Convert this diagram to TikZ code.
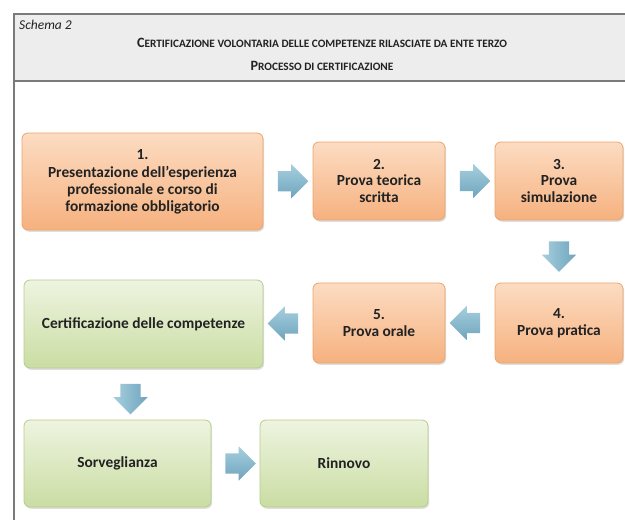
\documentclass[tikz,border=0pt]{standalone}
\usepackage{fontspec}
\setmainfont{Carlito}
\usetikzlibrary{shapes.arrows,shadows,calc}
\definecolor{oTop}{HTML}{FCDCC2}
\definecolor{oBot}{HTML}{F6B17F}
\definecolor{oLine}{HTML}{E9A46C}
\definecolor{gTop}{HTML}{EEF4E0}
\definecolor{gBot}{HTML}{CADDA3}
\definecolor{gLine}{HTML}{B7CC8C}
\definecolor{aTop}{HTML}{A6CFDE}
\definecolor{aBot}{HTML}{6FA4BD}
\definecolor{hdr}{HTML}{EDEDED}
\definecolor{frameC}{HTML}{7A7A7A}
\definecolor{txt}{HTML}{222222}
\newcommand\fsc[2]{{\fontsize{14.2}{16}\selectfont #1}{\fontsize{11.3}{13}\selectfont #2}}
\tikzset{
  boxbase/.style={rounded corners=6pt, line width=0.8pt, align=center, text=txt,
    font=\bfseries\fontsize{15.4}{16.8}\selectfont, inner sep=2pt,
    drop shadow={opacity=0.25, shadow xshift=1.2pt, shadow yshift=-1.8pt}},
  obox/.style={boxbase, draw=oLine, top color=oTop, bottom color=oBot},
  gbox/.style={boxbase, draw=gLine, top color=gTop, bottom color=gBot},
  barrow/.style={single arrow, inner sep=10pt, minimum height=30pt, minimum width=34pt,
    single arrow head extend=7pt, single arrow head indent=0pt,
    top color=aTop, bottom color=aBot, draw=none},
}
\begin{document}
\begin{tikzpicture}[x=1pt,y=-1pt]
\useasboundingbox (0,0) rectangle (625,520);
% frame and header
\fill[hdr] (14,14) rectangle (640,81);
\draw[frameC, line width=1.6pt] (640,14) -- (14,14) -- (14,520);
\draw[frameC, line width=1.6pt] (14,81) -- (640,81);
\node[font=\itshape\fontsize{13.5}{15}\selectfont, text=txt, anchor=west, inner sep=0pt] (schema) at (19,25) {Schema 2};
\node[font=\bfseries, text=txt, inner sep=0pt] (title) at (322,43) {\fsc{C}{ERTIFICAZIONE VOLONTARIA DELLE COMPETENZE RILASCIATE DA ENTE TERZO}};
\node[font=\bfseries, text=txt, inner sep=0pt] (sub) at (322,66) {\fsc{P}{ROCESSO DI CERTIFICAZIONE}};
% boxes
\node[obox, minimum width=241pt, minimum height=97pt] (b1) at (142.5,181.5)
  {1.\\[2pt]Presentazione dell'esperienza\\professionale e corso di\\formazione obbligatorio};
\node[obox, minimum width=132pt, minimum height=78pt] (b2) at (379,181) {2.\\Prova teorica\\scritta};
\node[obox, minimum width=128pt, minimum height=78pt] (b3) at (559,181) {3.\\Prova\\simulazione};
\node[obox, minimum width=128pt, minimum height=80pt] (b4) at (559,323) {4.\\Prova pratica};
\node[obox, minimum width=132pt, minimum height=80pt] (b5) at (379,323) {5.\\Prova orale};
\node[gbox, minimum width=239pt, minimum height=88pt] (cert) at (143.5,324) {Certificazione delle competenze};
\node[gbox, minimum width=187pt, minimum height=87pt] (sorv) at (117.5,463.5) {Sorveglianza};
\node[gbox, minimum width=168pt, minimum height=87pt] (rinn) at (344,463.5) {Rinnovo};
% block arrows
\node[barrow] (a12) at ($(b1.east)!0.5!(b2.west)$) {};
\node[barrow] (a23) at ($(b2.east)!0.5!(b3.west)$) {};
\node[barrow, shape border rotate=270, left color=aTop, right color=aBot] (a34) at ($(b3.south)!0.5!(b4.north)$) {};
\node[barrow, shape border rotate=180] (a45) at ($(b4.west)!0.5!(b5.east)$) {};
\node[barrow, shape border rotate=180] (a5c) at ($(b5.west)!0.5!(cert.east)$) {};
\node[barrow, shape border rotate=270, left color=aTop, right color=aBot] (acs) at ($(cert.south)!0.5!(sorv.north)$) {};
\node[barrow] (asr) at ($(sorv.east)!0.5!(rinn.west)$) {};
\end{tikzpicture}
\end{document}
